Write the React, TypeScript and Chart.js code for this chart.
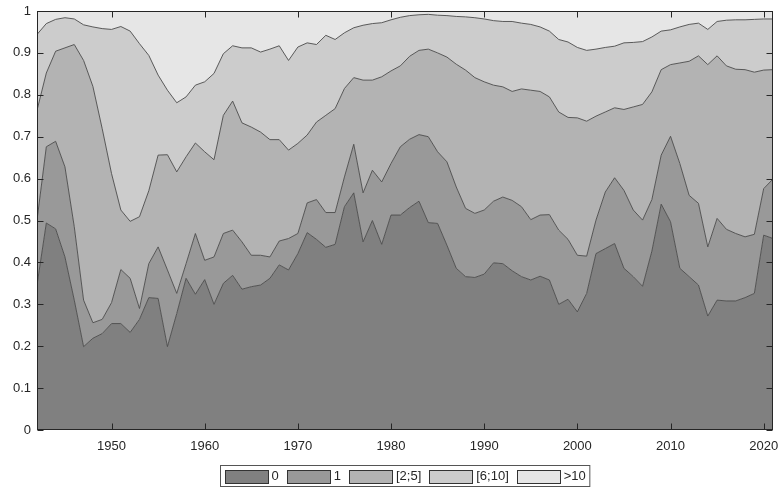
import React, { useEffect, useRef } from "react";
import { Chart, registerables } from "chart.js";

Chart.register(...registerables);

// Years on the horizontal axis
const years = [
  1942, 1943, 1944, 1945, 1946, 1947, 1948, 1949, 1950, 1951,
  1952, 1953, 1954, 1955, 1956, 1957, 1958, 1959, 1960, 1961,
  1962, 1963, 1964, 1965, 1966, 1967, 1968, 1969, 1970, 1971,
  1972, 1973, 1974, 1975, 1976, 1977, 1978, 1979, 1980, 1981,
  1982, 1983, 1984, 1985, 1986, 1987, 1988, 1989, 1990, 1991,
  1992, 1993, 1994, 1995, 1996, 1997, 1998, 1999, 2000, 2001,
  2002, 2003, 2004, 2005, 2006, 2007, 2008, 2009, 2010, 2011,
  2012, 2013, 2014, 2015, 2016, 2017, 2018, 2019, 2020, 2021,
];

// Cumulative shares: fraction with a count of at most 0, 1, 5 and 10
const atMost0 = [
  0.346, 0.494, 0.480, 0.413, 0.310, 0.199, 0.219, 0.230, 0.254, 0.254,
  0.233, 0.264, 0.316, 0.314, 0.199, 0.278, 0.362, 0.324, 0.359, 0.300,
  0.350, 0.369, 0.336, 0.342, 0.346, 0.362, 0.394, 0.382, 0.421, 0.471,
  0.455, 0.436, 0.443, 0.533, 0.566, 0.449, 0.500, 0.443, 0.513, 0.513,
  0.531, 0.546, 0.495, 0.493, 0.441, 0.386, 0.366, 0.364, 0.372, 0.399,
  0.397, 0.380, 0.366, 0.358, 0.367, 0.358, 0.300, 0.312, 0.282, 0.326,
  0.421, 0.433, 0.445, 0.386, 0.366, 0.343, 0.427, 0.539, 0.497, 0.386,
  0.366, 0.346, 0.272, 0.310, 0.308, 0.308, 0.316, 0.326, 0.465, 0.457,
];

const atMost1 = [
  0.501, 0.676, 0.689, 0.628, 0.485, 0.310, 0.256, 0.264, 0.304, 0.383,
  0.362, 0.290, 0.397, 0.437, 0.382, 0.326, 0.397, 0.469, 0.405, 0.413,
  0.469, 0.477, 0.449, 0.417, 0.417, 0.413, 0.451, 0.457, 0.469, 0.542,
  0.550, 0.519, 0.519, 0.604, 0.682, 0.566, 0.620, 0.592, 0.636, 0.676,
  0.694, 0.705, 0.700, 0.664, 0.640, 0.580, 0.529, 0.517, 0.525, 0.546,
  0.556, 0.548, 0.533, 0.502, 0.513, 0.514, 0.477, 0.455, 0.417, 0.415,
  0.501, 0.568, 0.602, 0.572, 0.525, 0.501, 0.550, 0.656, 0.701, 0.636,
  0.560, 0.541, 0.437, 0.505, 0.479, 0.469, 0.461, 0.467, 0.576, 0.599,
];

const atMost5 = [
  0.763, 0.852, 0.904, 0.912, 0.920, 0.882, 0.820, 0.719, 0.612, 0.525,
  0.498, 0.509, 0.571, 0.656, 0.657, 0.616, 0.652, 0.685, 0.664, 0.645,
  0.751, 0.785, 0.733, 0.723, 0.711, 0.693, 0.693, 0.668, 0.684, 0.704,
  0.735, 0.751, 0.767, 0.815, 0.841, 0.835, 0.835, 0.843, 0.857, 0.869,
  0.892, 0.906, 0.909, 0.900, 0.890, 0.873, 0.859, 0.841, 0.831, 0.823,
  0.819, 0.808, 0.814, 0.811, 0.808, 0.795, 0.759, 0.746, 0.745, 0.737,
  0.749, 0.759, 0.769, 0.765, 0.771, 0.777, 0.807, 0.860, 0.872, 0.876,
  0.880, 0.893, 0.872, 0.893, 0.869, 0.861, 0.860, 0.854, 0.859, 0.860,
];

const atMost10 = [
  0.944, 0.970, 0.980, 0.984, 0.981, 0.967, 0.962, 0.958, 0.956, 0.963,
  0.952, 0.922, 0.894, 0.847, 0.811, 0.781, 0.795, 0.823, 0.831, 0.851,
  0.898, 0.917, 0.912, 0.912, 0.902, 0.909, 0.917, 0.882, 0.914, 0.924,
  0.920, 0.942, 0.932, 0.948, 0.960, 0.966, 0.970, 0.972, 0.979, 0.985,
  0.989, 0.991, 0.992, 0.990, 0.989, 0.987, 0.986, 0.984, 0.981, 0.977,
  0.975, 0.975, 0.971, 0.968, 0.962, 0.952, 0.932, 0.926, 0.913, 0.906,
  0.909, 0.913, 0.916, 0.924, 0.925, 0.927, 0.938, 0.952, 0.955, 0.962,
  0.968, 0.971, 0.956, 0.975, 0.978, 0.979, 0.979, 0.980, 0.981, 0.981,
];

const categories = ["0", "1", "[2;5]", "[6;10]", ">10"];
const fills = ["#808080", "#999999", "#b3b3b3", "#cccccc", "#e6e6e6"];

const xTicks = [1950, 1960, 1970, 1980, 1990, 2000, 2010, 2020];
const yTicks = [0, 0.1, 0.2, 0.3, 0.4, 0.5, 0.6, 0.7, 0.8, 0.9, 1];

const FONT = '13px "Liberation Sans", Arial, Helvetica, sans-serif';
const INK = "#262626";

// Per-category shares derived from the cumulative levels
function shares(): number[][] {
  const levels = [atMost0, atMost1, atMost5, atMost10];
  return categories.map((_, k) =>
    years.map((_, i) => {
      const hi = k < levels.length ? levels[k][i] : 1;
      const lo = k === 0 ? 0 : levels[k - 1][i];
      return hi - lo;
    })
  );
}

// Axes box, inward ticks, tick labels and the boxed legend
const frame = {
  id: "frame",
  afterDatasetsDraw(chart: any) {
    const { ctx, chartArea, scales } = chart;
    const { left, right, top, bottom } = chartArea;
    const xs = scales.x;
    const ys = scales.y;
    const L = Math.round(left) + 0.5;
    const R = Math.round(right) - 0.5;
    const T = Math.round(top) + 0.5;
    const B = Math.round(bottom) - 0.5;
    const tick = 6;

    ctx.save();
    ctx.strokeStyle = INK;
    ctx.lineWidth = 1;
    ctx.beginPath();
    for (const t of xTicks) {
      const px = Math.round(xs.getPixelForValue(t)) + 0.5;
      ctx.moveTo(px, B);
      ctx.lineTo(px, B - tick);
      ctx.moveTo(px, T);
      ctx.lineTo(px, T + tick);
    }
    for (const t of yTicks) {
      const py = Math.round(ys.getPixelForValue(t)) + 0.5;
      ctx.moveTo(L, py);
      ctx.lineTo(L + tick, py);
      ctx.moveTo(R, py);
      ctx.lineTo(R - tick, py);
    }
    ctx.stroke();
    ctx.strokeRect(L, T, R - L, B - T);

    ctx.fillStyle = INK;
    ctx.font = FONT;
    ctx.textBaseline = "middle";
    ctx.textAlign = "center";
    for (const t of xTicks) {
      ctx.fillText(String(t), xs.getPixelForValue(t), bottom + 16);
    }
    ctx.textAlign = "right";
    for (const t of yTicks) {
      ctx.fillText(String(Math.round(t * 10) / 10), left - 6, ys.getPixelForValue(t));
    }

    // legend
    const sw = 43;
    const sh = 13;
    const gapText = 4;
    const gapItem = 8;
    const pad = 4;
    const widths = categories.map((c) => ctx.measureText(c).width);
    let total = pad * 2;
    widths.forEach((w, i) => {
      total += sw + gapText + w + (i < widths.length - 1 ? gapItem : 0);
    });
    const cx = (left + right) / 2;
    const bx = Math.round(cx - total / 2) + 0.5;
    const by = 465.5;
    const bh = 21;
    ctx.fillStyle = "#ffffff";
    ctx.fillRect(bx, by, total, bh);
    ctx.strokeStyle = "#555555";
    ctx.strokeRect(bx, by, total, bh);

    let x = bx + pad;
    const midY = by + bh / 2;
    ctx.textAlign = "left";
    categories.forEach((c, i) => {
      const sx = Math.round(x) + 0.5;
      const sy = Math.round(midY - sh / 2) + 0.5;
      ctx.fillStyle = fills[i];
      ctx.fillRect(sx, sy, sw, sh);
      ctx.strokeStyle = "#333333";
      ctx.strokeRect(sx, sy, sw, sh);
      ctx.fillStyle = INK;
      ctx.fillText(c, x + sw + gapText, midY + 0.5);
      x += sw + gapText + widths[i] + gapItem;
    });
    ctx.restore();
  },
};

export default function App() {
  const canvasRef = useRef<HTMLCanvasElement | null>(null);

  useEffect(() => {
    const canvas = canvasRef.current;
    if (!canvas) return;
    const parts = shares();
    const chart = new Chart(canvas, {
      type: "line",
      data: {
        datasets: categories.map((label, k) => ({
          label,
          data: years.map((yr, i) => ({ x: yr, y: parts[k][i] })),
          backgroundColor: fills[k],
          borderColor: "#4a4a4a",
          borderWidth: 0.9,
          pointRadius: 0,
          tension: 0,
          fill: k === 0 ? "origin" : "-1",
        })),
      },
      options: {
        responsive: false,
        animation: false,
        devicePixelRatio: 1,
        layout: { padding: { left: 37, right: 6, top: 11, bottom: 59 } },
        scales: {
          x: { type: "linear", min: 1942, max: 2021, display: false },
          y: { type: "linear", min: 0, max: 1, stacked: true, display: false },
        },
        plugins: {
          legend: { display: false },
          tooltip: { enabled: false },
        },
        events: [],
      },
      plugins: [frame],
    });
    return () => chart.destroy();
  }, []);

  return (
    <div style={{ position: "absolute", left: 0, top: 0, width: 779, height: 489, background: "#ffffff" }}>
      <canvas ref={canvasRef} width={779} height={489} style={{ display: "block" }} />
    </div>
  );
}
